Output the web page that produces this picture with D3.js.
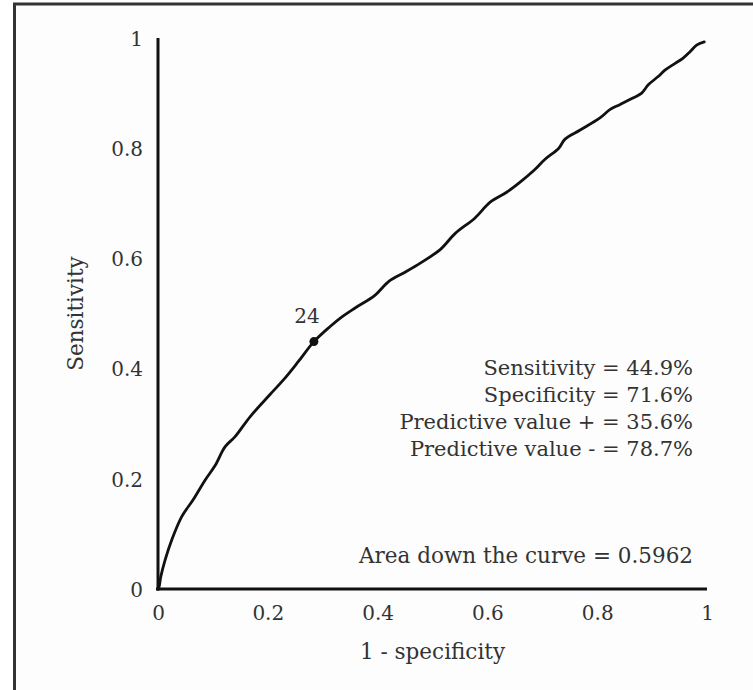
<!DOCTYPE html>
<html>
<head>
<meta charset="utf-8">
<script src="https://cdn.jsdelivr.net/npm/d3@7"></script>
<style>
  body { margin: 0; background: #fff; }
  svg text { font-family: "DejaVu Serif", "Liberation Serif", serif; fill: #333; }
</style>
</head>
<body>
<script>
// ROC curve points: [1 - specificity, sensitivity]
var rocX = [0, 0.002, 0.005, 0.013, 0.025, 0.043, 0.064, 0.086, 0.104, 0.122, 0.140, 0.168, 0.204, 0.228, 0.255, 0.284,
            0.313, 0.335, 0.359, 0.395, 0.420, 0.450, 0.477, 0.514, 0.541, 0.577, 0.605, 0.635, 0.659, 0.685, 0.705,
            0.730, 0.741, 0.769, 0.805, 0.823, 0.841, 0.865, 0.881, 0.893, 0.911, 0.924, 0.942, 0.956, 0.969, 0.981, 0.995]
var rocY = [0, 0.004, 0.022, 0.053, 0.089, 0.131, 0.162, 0.198, 0.224, 0.258, 0.276, 0.313, 0.353, 0.379, 0.412, 0.449,
            0.476, 0.494, 0.510, 0.533, 0.558, 0.575, 0.591, 0.616, 0.645, 0.673, 0.702, 0.720, 0.738, 0.760, 0.780,
            0.800, 0.816, 0.833, 0.855, 0.870, 0.879, 0.891, 0.900, 0.915, 0.930, 0.942, 0.954, 0.963, 0.975, 0.987, 0.993]

// cut-off point 24
var cutLabel = "24"
var cutPoint = [0.284, 0.449]

var xTicks = [0, 0.2, 0.4, 0.6, 0.8, 1]
var yTicks = [0, 0.2, 0.4, 0.6, 0.8, 1]
var statLines = ["Sensitivity = 44.9%", "Specificity = 71.6%", "Predictive value + = 35.6%", "Predictive value - = 78.7%"]
var areaText = "Area down the curve = 0.5962"

var width = 753, height = 690

var svg = d3.select("body").append("svg")
    .attr("width", width)
    .attr("height", height)

// outer frame (only top and left edges show)
svg.append("rect")
    .attr("x", 14.5).attr("y", 4)
    .attr("width", 900).attr("height", 900)
    .attr("fill", "#fdfdfd")
    .attr("stroke", "#333")
    .attr("stroke-width", 3)

var x = d3.scaleLinear().domain([0, 1]).range([158, 707])
var y = d3.scaleLinear().domain([0, 1]).range([589, 38])

// axes, drawn without ticks, labels placed by hand below
var xAxis = svg.append("g")
    .attr("transform", "translate(0," + y(0) + ")")
    .call(d3.axisBottom(x).tickValues(xTicks).tickSize(0).tickFormat(d3.format("")))
xAxis.select(".domain").attr("stroke", "#111").attr("stroke-width", 3).attr("d", "M" + (x(0) - 2) + ",0H" + x(1))
xAxis.selectAll("text")
    .attr("y", 31)
    .attr("dy", 0)
    .attr("font-size", "20px")
    .attr("font-family", null)

var yAxis = svg.append("g")
    .attr("transform", "translate(" + x(0) + ",0)")
    .call(d3.axisLeft(y).tickValues(yTicks).tickSize(0).tickFormat(d3.format("")))
yAxis.select(".domain").attr("stroke", "#111").attr("stroke-width", 3).attr("d", "M0," + y(1) + "V" + (y(0) + 1.5))
yAxis.selectAll("text")
    .attr("x", -15)
    .attr("dy", "0.36em")
    .attr("font-size", "20px")
    .attr("font-family", null)

// axis titles
svg.append("text")
    .attr("x", (x(0) + x(1)) / 2)
    .attr("y", 659)
    .attr("text-anchor", "middle")
    .attr("font-size", "21.5px")
    .text("1 - specificity")

svg.append("text")
    .attr("transform", "translate(83," + (y(0) + y(1)) / 2 + ") rotate(-90)")
    .attr("text-anchor", "middle")
    .attr("font-size", "21.5px")
    .text("Sensitivity")

// the curve
var pts = rocX.map(function (d, i) { return [d, rocY[i]] })
var line = d3.line()
    .x(function (d) { return x(d[0]) })
    .y(function (d) { return y(d[1]) })
    .curve(d3.curveCatmullRom)

svg.append("path")
    .datum(pts)
    .attr("d", line)
    .attr("fill", "none")
    .attr("stroke", "#111")
    .attr("stroke-width", 2.8)
    .attr("stroke-linejoin", "round")
    .attr("stroke-linecap", "round")

// cut-off marker
svg.append("circle")
    .attr("cx", x(cutPoint[0]))
    .attr("cy", y(cutPoint[1]))
    .attr("r", 4.5)
    .attr("fill", "#111")

svg.append("text")
    .attr("x", x(cutPoint[0]) - 7)
    .attr("y", y(cutPoint[1]) - 19)
    .attr("text-anchor", "middle")
    .attr("font-size", "20px")
    .text(cutLabel)

// stats block, right aligned
svg.selectAll(null)
    .data(statLines)
    .enter()
    .append("text")
    .attr("x", 693)
    .attr("y", function (d, i) { return 375 + i * 27 })
    .attr("text-anchor", "end")
    .attr("font-size", "21px")
    .text(function (d) { return d })

svg.append("text")
    .attr("x", 693)
    .attr("y", 563)
    .attr("text-anchor", "end")
    .attr("font-size", "21.5px")
    .text(areaText)
</script>
</body>
</html>
